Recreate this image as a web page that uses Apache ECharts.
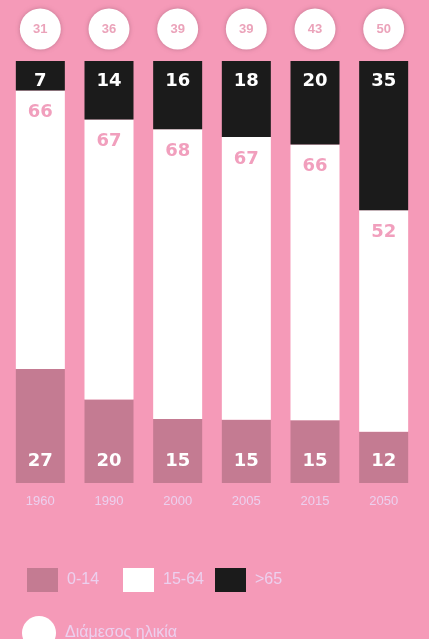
<!DOCTYPE html>
<html><head><meta charset="utf-8">
<script src="https://cdn.jsdelivr.net/npm/echarts@6/dist/echarts.min.js"></script>
<style>html,body{margin:0;padding:0;background:#f59ab8;}#c{width:429px;height:639px;}</style>
</head><body><div id="c"></div>
<script>
var years = ['1960','1990','2000','2005','2015','2050'];
var age0_14 = [27,20,15,15,15,12];
var age15_64 = [66,67,68,67,66,52];
var age65 = [7,14,16,18,20,35];
var medianAge = [31,36,39,39,43,50];

var BG = '#f59ab8', PINK = '#c47b92', BLACK = '#1b1b1b', LAV = '#ecd0ee', LABPINK = '#f19fbd';
var FONT = '"Liberation Sans", Arial, sans-serif';
var BFONT = '"DejaVu Sans", sans-serif';

// each bar is drawn as a full-height 100% column: shares of the column total
var totals = years.map(function(y, i){ return age0_14[i] + age15_64[i] + age65[i]; });
function shares(arr){ return arr.map(function(v, i){ return {value: v * 100 / totals[i], raw: v}; }); }
function rawLabel(p){ return p.data.raw; }

var legendText = {color: LAV, fontSize: 16, fontFamily: FONT, padding: [0, 0, 0, 4]};
function legendItem(name, left){
  return {data:[name], left: left, top: 563, icon:'rect', itemWidth: 31, itemHeight: 24, textStyle: legendText};
}

var chart = echarts.init(document.getElementById('c'), null, {renderer:'canvas'});
chart.setOption({
  backgroundColor: BG,
  animation: false,
  grid: [
    {left: 6, right: 11, top: 61, bottom: 156},
    {left: 6, right: 11, top: 9, height: 40}
  ],
  xAxis: [
    {type:'category', data: years, gridIndex:0, axisLine:{show:false}, axisTick:{show:false},
     axisLabel:{color: LAV, fontSize: 13, fontFamily: FONT, margin: 12}},
    {type:'category', data: years, gridIndex:1, show:false}
  ],
  yAxis: [
    {type:'value', min:0, max:100, gridIndex:0, show:false},
    {type:'value', min:0, max:1, gridIndex:1, show:false}
  ],
  legend: [
    legendItem('0-14', 22),
    legendItem('15-64', 118),
    legendItem('>65', 210),
    {data:[{name:'Διάμεσος ηλικία', icon:'circle'}], left: 17, top: 611, itemWidth: 34, itemHeight: 34,
     textStyle: legendText}
  ],
  series: [
    {name:'0-14', type:'bar', stack:'a', data: shares(age0_14), barWidth: 49,
     itemStyle:{color: PINK},
     label:{show:true, position:'insideBottom', distance: 13, formatter: rawLabel, color:'#fff', fontSize: 18, fontWeight:'bold', fontFamily: BFONT}},
    {name:'15-64', type:'bar', stack:'a', data: shares(age15_64), barWidth: 49,
     itemStyle:{color: '#ffffff'},
     label:{show:true, position:'insideTop', distance: 13, formatter: rawLabel, color: LABPINK, fontSize: 18, fontWeight:'bold', fontFamily: BFONT}},
    {name:'>65', type:'bar', stack:'a', data: shares(age65), barWidth: 49,
     itemStyle:{color: BLACK},
     label:{show:true, position:'insideTop', distance: 11, formatter: rawLabel, color:'#fff', fontSize: 18, fontWeight:'bold', fontFamily: BFONT}},
    {name:'Διάμεσος ηλικία', type:'scatter', xAxisIndex:1, yAxisIndex:1,
     data: medianAge.map(function(v, i){ return [years[i], 0.5, v]; }),
     symbolSize: 41,
     itemStyle:{color:'#ffffff', opacity: 1, shadowColor:'rgba(150,90,110,0.55)', shadowBlur:4},
     label:{show:true, position:'inside', formatter:function(p){return p.value[2];}, color: '#eba3ba', fontSize: 13, fontWeight:'bold', fontFamily: FONT}}
  ]
});
</script></body></html>
